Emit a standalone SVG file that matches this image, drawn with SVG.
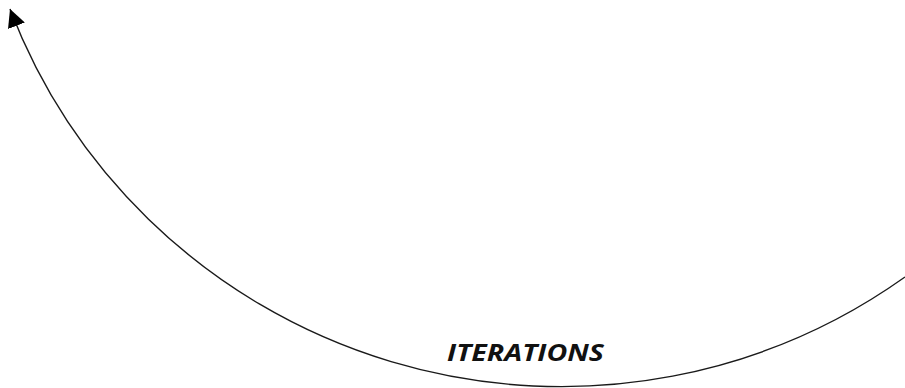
<svg xmlns="http://www.w3.org/2000/svg" width="905" height="388" viewBox="0 0 905 388">
  <style>
    .conn { fill: none; stroke: #1a1a1a; stroke-width: 1.4; }
    .label { font-family: "Open Sans", "Liberation Sans", sans-serif; font-weight: bold; font-style: italic; font-size: 24px; fill: #111; }
  </style>
  <defs>
    <marker id="arrow" markerUnits="userSpaceOnUse" markerWidth="20" markerHeight="18" refX="18" refY="9" orient="auto">
      <path d="M0,0 L18,9 L0,18 Z" fill="#000"/>
    </marker>
  </defs>
  <rect width="905" height="388" fill="#fff"/>
  <g id="connectors">
    <path class="conn" d="M905,277 A590,586 0 0 1 10,9" marker-end="url(#arrow)"/>
  </g>
  <g id="label-iterations">
    <text class="label" x="447" y="361" textLength="157" lengthAdjust="spacingAndGlyphs">ITERATIONS</text>
  </g>
</svg>
